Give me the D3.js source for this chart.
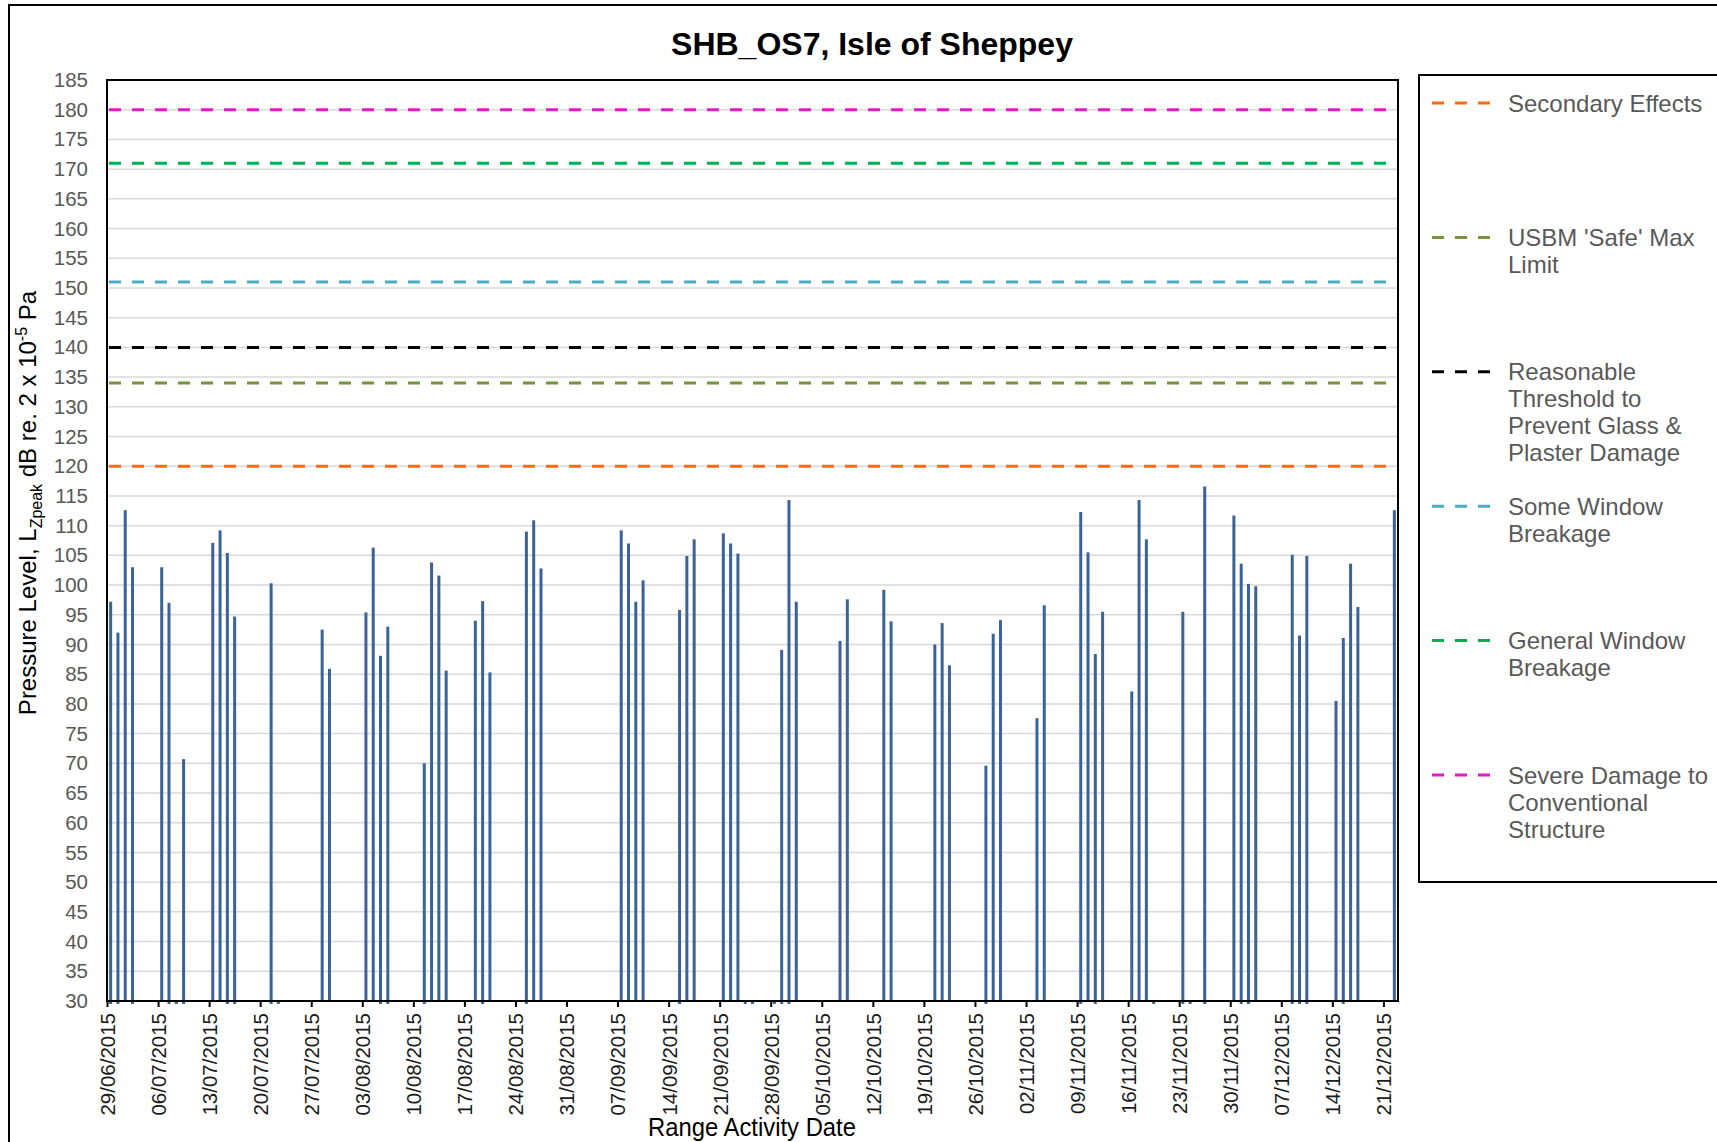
<!DOCTYPE html>
<html>
<head>
<meta charset="utf-8">
<script src="https://cdn.jsdelivr.net/npm/d3@7"></script>
<style>
  html, body { margin: 0; padding: 0; background: #fff; }
  svg { display: block; font-family: "Liberation Sans", Arial, sans-serif; }
</style>
</head>
<body>
<svg id="chart" width="1717" height="1142"></svg>
<script>
// ---------------- DATA ----------------
const chartTitle = "SHB_OS7, Isle of Sheppey";
const xAxisTitle = "Range Activity Date";

const barDates = [
  "29/06/2015","30/06/2015","01/07/2015","02/07/2015",
  "06/07/2015","07/07/2015","09/07/2015",
  "13/07/2015","14/07/2015","15/07/2015","16/07/2015",
  "21/07/2015",
  "28/07/2015","29/07/2015",
  "03/08/2015","04/08/2015","05/08/2015","06/08/2015",
  "11/08/2015","12/08/2015","13/08/2015","14/08/2015",
  "18/08/2015","19/08/2015","20/08/2015",
  "25/08/2015","26/08/2015","27/08/2015",
  "07/09/2015","08/09/2015","09/09/2015","10/09/2015",
  "15/09/2015","16/09/2015","17/09/2015",
  "21/09/2015","22/09/2015","23/09/2015",
  "29/09/2015","30/09/2015","01/10/2015",
  "07/10/2015","08/10/2015",
  "13/10/2015","14/10/2015",
  "20/10/2015","21/10/2015","22/10/2015",
  "27/10/2015","28/10/2015","29/10/2015",
  "03/11/2015","04/11/2015",
  "09/11/2015","10/11/2015","11/11/2015","12/11/2015",
  "16/11/2015","17/11/2015","18/11/2015",
  "23/11/2015","26/11/2015",
  "30/11/2015","01/12/2015","02/12/2015","03/12/2015",
  "08/12/2015","09/12/2015","10/12/2015",
  "14/12/2015","15/12/2015","16/12/2015","17/12/2015",
  "22/12/2015"
];
const barValues = [
  97.2, 92.0, 112.6, 103.0,
  103.0, 97.0, 70.7,
  107.1, 109.2, 105.4, 94.7,
  100.3,
  92.5, 85.9,
  95.4, 106.3, 88.1, 93.0,
  70.0, 103.8, 101.6, 85.6,
  94.0, 97.3, 85.3,
  109.0, 110.9, 102.8,
  109.2, 107.0, 97.2, 100.8,
  95.8, 104.9, 107.7,
  108.7, 107.0, 105.3,
  89.1, 114.3, 97.2,
  90.6, 97.6,
  99.2, 93.9,
  90.0, 93.6, 86.5,
  69.6, 91.8, 94.1,
  77.6, 96.6,
  112.3, 105.5, 88.4, 95.5,
  82.1, 114.3, 107.7,
  95.5, 116.6,
  111.7, 103.6, 100.2, 99.8,
  105.1, 91.5, 104.9,
  80.5, 91.1, 103.6, 96.3,
  112.6
];
// days with readings below the 30 dB axis floor (drawn as small stubs under the axis)
const lowDates = [
  "29/06/2015","30/06/2015","02/07/2015","07/07/2015","08/07/2015","09/07/2015",
  "15/07/2015","16/07/2015","21/07/2015","22/07/2015","05/08/2015","06/08/2015",
  "11/08/2015","19/08/2015","25/08/2015","15/09/2015","24/09/2015","25/09/2015",
  "28/09/2015","29/09/2015","30/09/2015","27/10/2015","09/11/2015","11/11/2015",
  "19/11/2015","23/11/2015","24/11/2015","26/11/2015","01/12/2015","02/12/2015",
  "08/12/2015","09/12/2015","10/12/2015","15/12/2015"
];
const lowValue = 29.5;

const thresholdNames = [
  "Secondary Effects",
  "USBM 'Safe' Max Limit",
  "Reasonable Threshold to Prevent Glass & Plaster Damage",
  "Some Window Breakage",
  "General Window Breakage",
  "Severe Damage to Conventional Structure"
];
const thresholdValues = [120, 134, 140, 151, 171, 180];
const legendLines = [
  ["Secondary Effects"],
  ["USBM 'Safe' Max", "Limit"],
  ["Reasonable", "Threshold to", "Prevent Glass &", "Plaster Damage"],
  ["Some Window", "Breakage"],
  ["General Window", "Breakage"],
  ["Severe Damage to", "Conventional", "Structure"]
];

const yTicks = [30,35,40,45,50,55,60,65,70,75,80,85,90,95,100,105,110,115,120,125,130,135,140,145,150,155,160,165,170,175,180,185];
const xTickLabels = [
  "29/06/2015","06/07/2015","13/07/2015","20/07/2015","27/07/2015","03/08/2015",
  "10/08/2015","17/08/2015","24/08/2015","31/08/2015","07/09/2015","14/09/2015",
  "21/09/2015","28/09/2015","05/10/2015","12/10/2015","19/10/2015","26/10/2015",
  "02/11/2015","09/11/2015","16/11/2015","23/11/2015","30/11/2015","07/12/2015",
  "14/12/2015","21/12/2015"
];
const xStart = "29/06/2015";
const xEnd = "23/12/2015";

// ---------------- STYLE / LAYOUT ----------------
const thresholdColors = ["#FF6A13", "#77933C", "#000000", "#4BACC6", "#00B050", "#E11BC6"];
const barColor = "#3A6399";
const plot = { left: 107, right: 1398, top: 80, bottom: 1001 };

const parse = d3.utcParse("%d/%m/%Y");
const svg = d3.select("#chart");

svg.append("rect").attr("width", 1717).attr("height", 1142).attr("fill", "#fff");
// outer chart border (extends beyond the visible canvas)
svg.append("rect").attr("x", 9).attr("y", 5).attr("width", 1800).attr("height", 1300)
  .attr("fill", "none").attr("stroke", "#000").attr("stroke-width", 2);

const x = d3.scaleUtc().domain([parse(xStart), parse(xEnd)]).range([plot.left, plot.right]);
const y = d3.scaleLinear().domain([30, 185]).range([plot.bottom, plot.top]);
const dayW = x(d3.utcDay.offset(parse(xStart), 1)) - x(parse(xStart));

// gridlines
svg.append("g").selectAll("line").data(yTicks.filter(v => v > 30 && v < 185)).join("line")
  .attr("x1", plot.left).attr("x2", plot.right)
  .attr("y1", d => y(d)).attr("y2", d => y(d))
  .attr("stroke", "#D9D9D9").attr("stroke-width", 1.5);

// threshold lines
svg.append("g").selectAll("line").data(thresholdValues).join("line")
  .attr("x1", plot.left + 2).attr("x2", plot.right)
  .attr("y1", d => y(d)).attr("y2", d => y(d))
  .attr("stroke", (d, i) => thresholdColors[i]).attr("stroke-width", 3)
  .attr("stroke-dasharray", "12,11");

// low readings stubs
const barW = 3;
svg.append("g").selectAll("rect").data(lowDates).join("rect")
  .attr("x", d => x(parse(d)) + dayW / 2 - barW / 2)
  .attr("y", y(30))
  .attr("width", barW)
  .attr("height", y(lowValue) - y(30))
  .attr("fill", barColor);

// bars
const bars = barDates.map((d, i) => ({ date: parse(d), value: barValues[i] }));
svg.append("g").selectAll("rect").data(bars).join("rect")
  .attr("x", d => x(d.date) + dayW / 2 - barW / 2)
  .attr("y", d => y(d.value))
  .attr("width", barW)
  .attr("height", d => y(30) - y(d.value))
  .attr("fill", barColor);

// plot frame
svg.append("rect").attr("x", plot.left).attr("y", plot.top)
  .attr("width", plot.right - plot.left).attr("height", plot.bottom - plot.top)
  .attr("fill", "none").attr("stroke", "#000").attr("stroke-width", 2);

// y axis labels
const yAxis = d3.axisLeft(y).tickValues(yTicks).tickSize(0).tickPadding(19);
const gy = svg.append("g").attr("transform", `translate(${plot.left},0)`).call(yAxis);
gy.select(".domain").remove();
gy.selectAll("text").attr("font-size", 20.5).attr("fill", "#595959")
  .attr("font-family", "Liberation Sans, Arial, sans-serif");

// x axis
const xTickDates = xTickLabels.map(parse);
const xAxis = d3.axisBottom(x).tickValues(xTickDates).tickSize(6)
  .tickFormat(d3.utcFormat("%d/%m/%Y"));
const gx = svg.append("g").attr("transform", `translate(0,${plot.bottom})`).call(xAxis);
gx.select(".domain").remove();
gx.selectAll(".tick line").attr("stroke", "#000").attr("stroke-width", 2);
gx.selectAll("text")
  .attr("font-size", 20.5).attr("fill", "#1a1a1a")
  .attr("font-family", "Liberation Sans, Arial, sans-serif")
  .attr("text-anchor", "end")
  .attr("transform", "rotate(-90)")
  .attr("x", -12).attr("y", 0).attr("dy", "0.36em");

// title
svg.append("text").attr("x", 872).attr("y", 55).attr("text-anchor", "middle")
  .attr("font-size", 32).attr("font-weight", "bold").attr("fill", "#000")
  .text(chartTitle);

// x axis title
svg.append("text").attr("x", 752).attr("y", 1136).attr("text-anchor", "middle")
  .attr("font-size", 25).attr("fill", "#000")
  .attr("textLength", 208).attr("lengthAdjust", "spacingAndGlyphs")
  .text(xAxisTitle);

// y axis title
const yt = svg.append("text").attr("transform", "translate(36,503) rotate(-90)")
  .attr("text-anchor", "middle").attr("font-size", 24).attr("fill", "#000");
yt.append("tspan").text("Pressure Level, L");
yt.append("tspan").attr("font-size", 16).attr("dy", 6).text("Zpeak");
yt.append("tspan").attr("dy", -6).text(" dB re. 2 x 10");
yt.append("tspan").attr("font-size", 16).attr("dy", -9).text("-5");
yt.append("tspan").attr("dy", 9).text(" Pa");

// legend
svg.append("rect").attr("x", 1419).attr("y", 75).attr("width", 400).attr("height", 807)
  .attr("fill", "#fff").attr("stroke", "#000").attr("stroke-width", 2);
const legendY = d3.scaleLinear().domain([0, 5]).range([103, 775]);
const lg = svg.append("g").selectAll("g").data(thresholdNames).join("g")
  .attr("transform", (d, i) => `translate(0,${legendY(i)})`);
lg.append("line").attr("x1", 1432).attr("x2", 1491).attr("y1", 0).attr("y2", 0)
  .attr("stroke", (d, i) => thresholdColors[i]).attr("stroke-width", 3)
  .attr("stroke-dasharray", "12,11");
lg.append("text").attr("x", 1508).attr("y", 8.5).attr("font-size", 24).attr("fill", "#595959")
  .each(function (d, i) {
    d3.select(this).selectAll("tspan").data(legendLines[i]).join("tspan")
      .attr("x", 1508).attr("dy", (t, j) => j === 0 ? 0 : 27).text(t => t);
  });
</script>
</body>
</html>
